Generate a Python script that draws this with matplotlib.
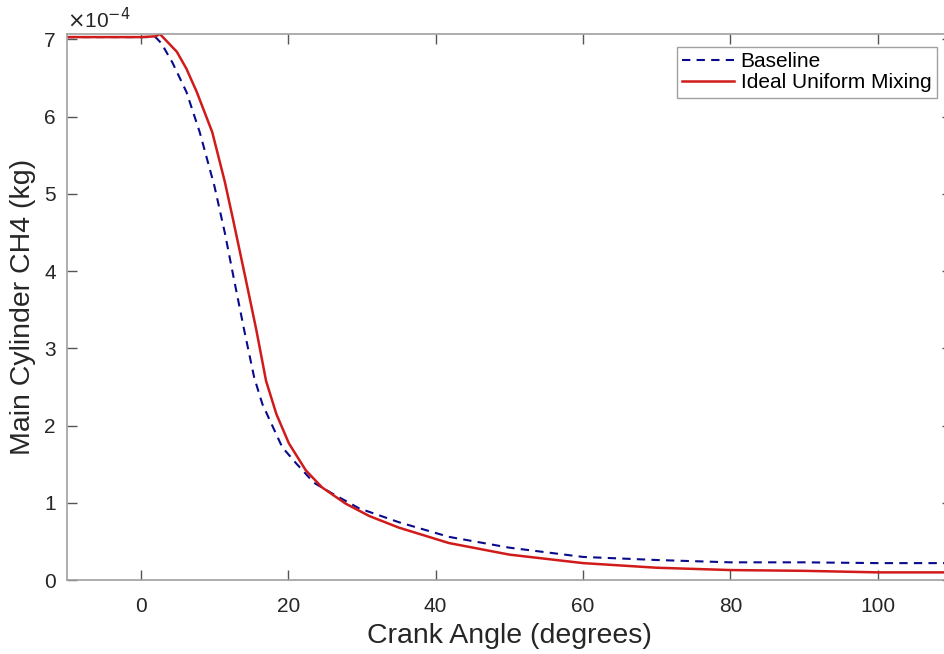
import numpy as np
import matplotlib.pyplot as plt

plt.rcParams['font.family'] = ['Liberation Sans', 'DejaVu Sans']

# Crank angle (deg) and CH4 mass (x1e-4 kg)
base_angle = [-10, 0, 2.0, 2.8, 4.3, 6.2, 8.0, 10.0, 11.4, 12.7, 14.05, 15.4, 16.5, 17.7,
              19.2, 21.1, 23.5, 26.0, 29.6, 35.0, 41.8, 50, 60, 70, 80, 90, 100, 110]
base_mass = [7.03, 7.03, 7.03, 6.95, 6.70, 6.32, 5.80, 5.10, 4.50, 3.87, 3.23, 2.62, 2.28, 2.03,
             1.72, 1.51, 1.26, 1.12, 0.93, 0.75, 0.56, 0.42, 0.30, 0.26, 0.23, 0.23, 0.22, 0.22]

mix_angle = [-10, 0, 2.0, 2.6, 3.5, 4.9, 6.2, 7.6, 9.7, 11.4, 12.5, 14.3, 15.7, 17.0, 18.4,
             20.1, 22.4, 24.6, 27.8, 31.0, 35.0, 41.8, 50, 60, 70, 80, 90, 100, 110]
mix_mass = [7.03, 7.03, 7.04, 7.07, 6.98, 6.84, 6.62, 6.32, 5.80, 5.16, 4.68, 3.87, 3.23, 2.58, 2.15,
            1.77, 1.42, 1.20, 0.99, 0.83, 0.68, 0.48, 0.33, 0.22, 0.16, 0.13, 0.12, 0.10, 0.10]

fig = plt.figure(figsize=(9.44, 6.54), dpi=100)
ax = fig.add_axes([0.071, 0.113, 0.937, 0.835])

ax.plot(base_angle, base_mass, '--', color='#0a0a8c', lw=1.5, dashes=(4, 3), label='Baseline')
ax.plot(mix_angle, mix_mass, '-', color='#d11a1a', lw=1.8, label='Ideal Uniform Mixing')

ax.set_xlim(-10, 110)
ax.set_ylim(0, 7.07)
ax.set_xticks([0, 20, 40, 60, 80, 100])
ax.set_yticks(range(0, 8))

ax.tick_params(direction='in', top=True, right=True, length=7, width=1,
               colors='#555555', labelcolor='#262626', labelsize=15, pad=8)
ax.tick_params(axis='x', pad=12)
for s in ax.spines.values():
    s.set_color('#a0a0a0')
    s.set_linewidth(1.2)

ax.set_xlabel('Crank Angle (degrees)', fontsize=20.5, color='#262626', labelpad=5)
ax.set_ylabel('Main Cylinder CH4 (kg)', fontsize=20.5, color='#262626', labelpad=6)
ax.text(0.0, 1.004, r'$\times$10$^{-4}$', transform=ax.transAxes, fontsize=15,
        color='#262626', ha='left', va='bottom')

leg = ax.legend(loc='upper right', bbox_to_anchor=(0.983, 0.976), fontsize=15,
                handlelength=2.5, frameon=True, fancybox=False, borderpad=0.25,
                labelspacing=0.1, handletextpad=0.3, borderaxespad=0)
leg.get_frame().set_edgecolor('#888888')
leg.get_frame().set_linewidth(1)

plt.savefig('out.png', dpi=100)
plt.close()
